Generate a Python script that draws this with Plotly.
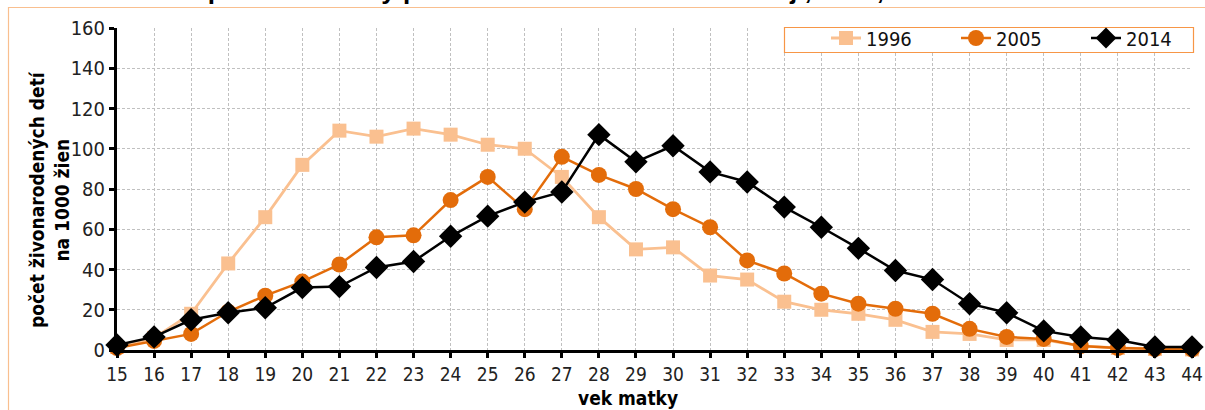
import plotly.graph_objects as go

ages = list(range(15, 45))
y1996 = [1.5, 6, 18, 43, 66, 92, 109, 106, 110, 107, 102, 100, 86, 66, 50, 51, 37, 35, 24, 20, 18, 15, 9, 8, 5, 5, 2, 1, 0.5, 0.3]
y2005 = [1, 4.5, 8, 19, 27, 34, 42.5, 56, 57, 74.5, 86, 70, 96, 87, 80, 70, 61, 44.5, 38, 28, 23, 20.5, 18, 10.5, 6.5, 5.5, 2, 1, 0.5, 0.3]
y2014 = [2.5, 6.5, 15, 18.5, 21, 31, 31.5, 41, 44, 56.5, 66.5, 73.5, 78.5, 107, 93.5, 101.5, 88.5, 83.5, 71, 61, 50.5, 39.5, 35, 23, 18.5, 9.5, 6.5, 5, 1.5, 1.5]
y_ticks = [0, 20, 40, 60, 80, 100, 120, 140, 160]

title_text = "Graf 3.3 Vekovo špecifické miery plodnosti žien v Trnavskom kraji, 1996, 2005 a 2014"
ytitle = "počet živonarodených detí<br>na 1000 žien"
xtitle = "vek matky"

FONT = "Liberation Sans Narrow, Arial Narrow, DejaVu Sans Condensed, sans-serif"

W, H = 1205, 410
L, R, T, B = 117, 13, 28, 60
PW, PH = W - L - R, H - T - B

def px(sx):
    return (sx - L) / PW

def py(sy):
    return (H - B - sy) / PH

fig = go.Figure()
fig.add_trace(go.Scatter(x=ages, y=y1996, name="1996", mode="lines+markers",
                         line=dict(color="#FAC090", width=2.8),
                         marker=dict(symbol="square", size=14, color="#FAC090"),
                         cliponaxis=False))
fig.add_trace(go.Scatter(x=ages, y=y2005, name="2005", mode="lines+markers",
                         line=dict(color="#E36C0A", width=2.5),
                         marker=dict(symbol="circle", size=16, color="#E36C0A"),
                         cliponaxis=False))
fig.add_trace(go.Scatter(x=ages, y=y2014, name="2014", mode="lines+markers",
                         line=dict(color="#000000", width=2.5),
                         marker=dict(symbol="diamond", size=18, color="#000000"),
                         cliponaxis=False))

fig.update_layout(
    width=W, height=H,
    margin=dict(l=L, r=R, t=T, b=B, autoexpand=False),
    paper_bgcolor="white", plot_bgcolor="white",
    font=dict(family=FONT, size=20, color="#222222"),
    showlegend=True,
    legend=dict(orientation="h", x=px(826), xanchor="left", y=py(38), yanchor="middle",
                borderwidth=0, bgcolor="rgba(0,0,0,0)",
                font=dict(family=FONT, size=20, color="#111111"),
                entrywidth=85, traceorder="normal"),
    xaxis=dict(range=[15, 44], tickmode="array", tickvals=ages, ticktext=[str(a) for a in ages],
               showline=True, linecolor="black", linewidth=3,
               ticks="outside", ticklen=5, tickwidth=3, tickcolor="black",
               showgrid=True, gridcolor="#C0C0C0", griddash="3px,2px", gridwidth=1,
               zeroline=False, tickfont=dict(size=19, family=FONT, color="#222222")),
    yaxis=dict(range=[0, 160], tickmode="array", tickvals=y_ticks,
               showline=True, linecolor="black", linewidth=3,
               ticks="outside", ticklen=5, tickwidth=3, tickcolor="black",
               showgrid=True, gridcolor="#C0C0C0", griddash="3px,2px", gridwidth=1,
               zeroline=False, tickfont=dict(size=20, family=FONT, color="#222222")),
)

# outer chart frame
fig.add_shape(type="rect", xref="paper", yref="paper",
              x0=px(8.5), x1=px(1215), y0=py(420), y1=py(7.5),
              line=dict(color="#F9BF8F", width=1.2), fillcolor="rgba(0,0,0,0)", layer="below")
# legend frame
fig.add_shape(type="rect", xref="paper", yref="paper",
              x0=px(784.5), x1=px(1193.5), y0=py(52.5), y1=py(27.5),
              line=dict(color="#F79646", width=1.2), fillcolor="white", layer="above")

fig.add_annotation(text="<b>" + title_text + "</b>", xref="paper", yref="paper",
                   x=px(1038), xanchor="right", y=py(7), yanchor="bottom",
                   showarrow=False, font=dict(family="Liberation Sans, Arial, sans-serif", size=26, color="black"))
fig.add_annotation(text="<b>" + ytitle + "</b>", xref="paper", yref="paper",
                   x=px(49), y=py(200), xanchor="center", yanchor="middle",
                   textangle=-90, showarrow=False,
                   font=dict(family=FONT, size=19, color="black"))
fig.add_annotation(text="<b>" + xtitle + "</b>", xref="paper", yref="paper",
                   x=px(628), y=py(398), xanchor="center", yanchor="middle",
                   showarrow=False, font=dict(family=FONT, size=19, color="black"))

fig.write_html("out.html",
               config={"displayModeBar": False},
               post_script="document.documentElement.style.margin='0';document.body.style.margin='0';"
                           "document.documentElement.style.overflow='hidden';document.body.style.overflow='hidden';")
